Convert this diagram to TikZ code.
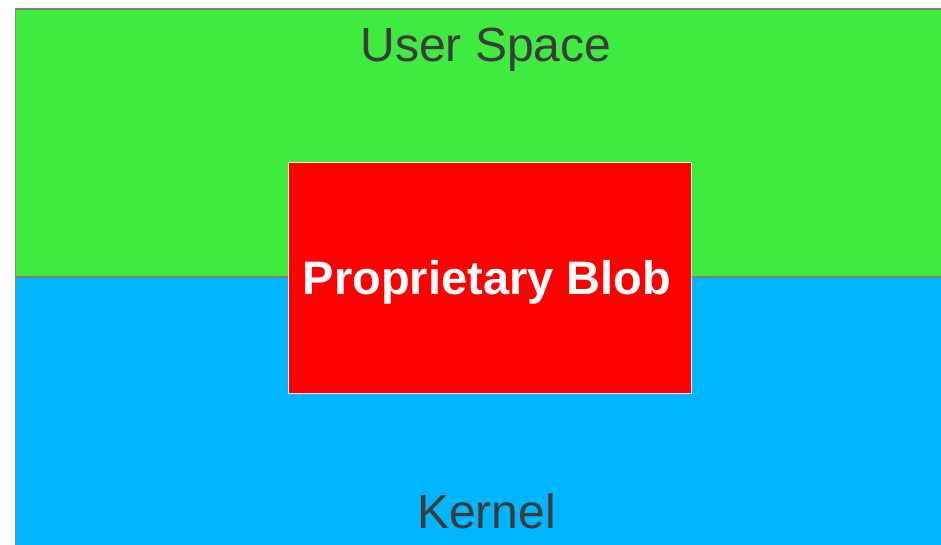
\documentclass[tikz,border=0pt]{standalone}
\usepackage{fontspec}
\setmainfont{Liberation Sans}
\definecolor{userg}{RGB}{64,235,64}
\definecolor{kernb}{RGB}{0,181,255}
\definecolor{blobr}{RGB}{255,0,0}
\definecolor{txtg}{RGB}{60,60,60}
\definecolor{edgeg}{RGB}{128,128,128}
\begin{document}
\begin{tikzpicture}[x=1pt,y=-1pt,
  region/.style={draw=edgeg,line width=1.5pt},
  regionlabel/.style={anchor=base,inner sep=0pt,text=txtg,font=\fontsize{48}{52}\selectfont},
  blobbox/.style={draw=white!85!gray,line width=1pt,fill=blobr},
  bloblabel/.style={anchor=base,inner sep=0pt,text=white,font=\fontsize{47}{51}\selectfont\bfseries}]
\useasboundingbox (0,0) rectangle (941,544);
\fill[white] (0,0) rectangle (941,544);
\path[region,fill=userg] (15.5,9) rectangle (945,277);
\path[region,fill=kernb] (15.5,277) rectangle (945,550);
\path[blobbox] (288,162) rectangle (691,393);
\node[regionlabel] (user) at (486,61) {User Space};
\node[regionlabel] (kernel) at (486.5,528) {Kernel};
\node[bloblabel] (blob) at (487,294) {Proprietary Blob};
\end{tikzpicture}
\end{document}
